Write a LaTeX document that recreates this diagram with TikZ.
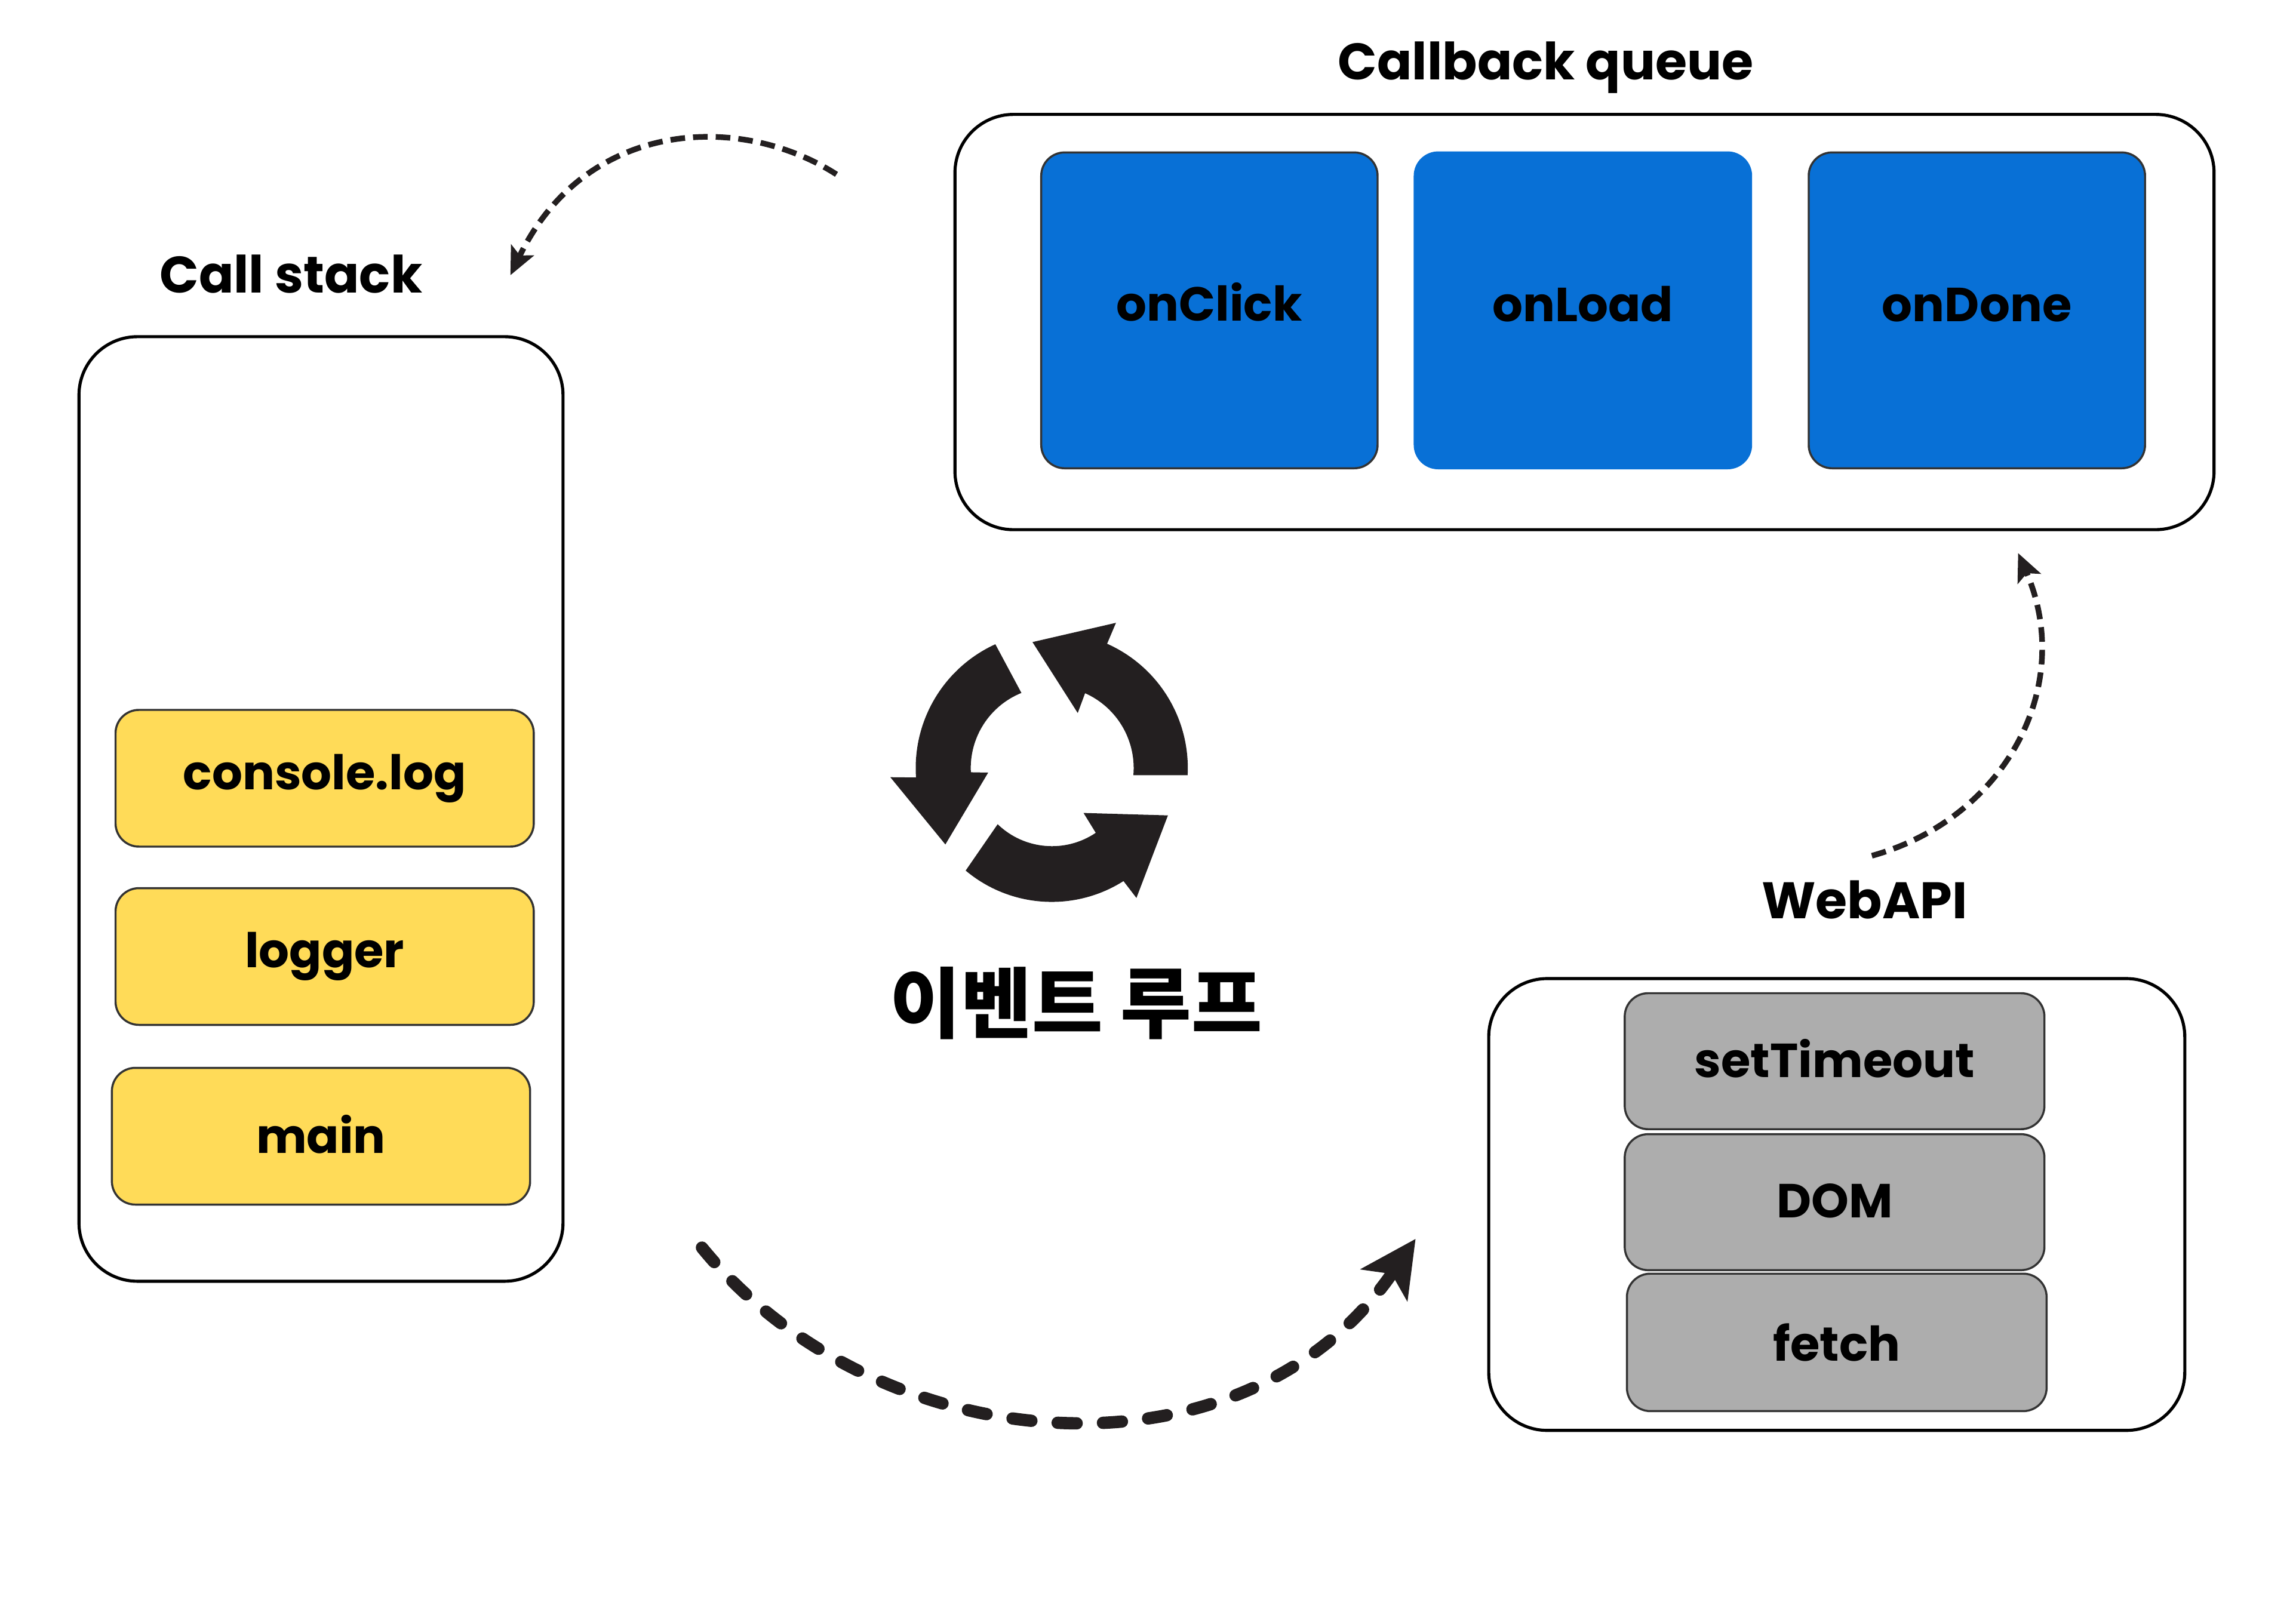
\documentclass[tikz,border=0pt]{standalone}
\usepackage{xcolor}
\usepackage{fontspec}
\usepackage{tikz}
\usetikzlibrary{positioning, arrows.meta}

\setmainfont{Poppins}
\newfontfamily\korfont{Noto Sans CJK KR}

\definecolor{stackyellow}{HTML}{FFDB58}
\definecolor{queueblue}{HTML}{0870D6}
\definecolor{apigray}{HTML}{ADADAD}
\definecolor{loopink}{HTML}{231F20}

\begin{document}
\begin{tikzpicture}[
    % Define styles for the boxes and text
    panel/.style={draw, line width=0.6pt, rectangle, rounded corners=0.4cm, inner sep=0pt},
    block/.style={draw=black!80, line width=0.4pt, rectangle, rounded corners=0.16cm, inner sep=0pt, align=center, font=\fontsize{9.3}{11}\selectfont\bfseries},
    stackblock/.style={block, fill=stackyellow, minimum width=2.86cm, minimum height=0.935cm},
    queueblock/.style={block, fill=queueblue, minimum width=2.3cm, minimum height=2.16cm},
    apiblock/.style={block, fill=apigray, minimum width=2.87cm, minimum height=0.93cm},
    title/.style={align=center, font=\fontsize{10}{12}\selectfont\bfseries},
    flow/.style={-{Stealth[length=0.19cm, width=0.17cm, inset=0.04cm]}, line width=1.1pt, draw=loopink, dash pattern=on 0.1cm off 0.055cm},
    bigflow/.style={-{Stealth[length=0.38cm, width=0.38cm, inset=0.09cm]}, line width=2.4pt, line cap=round, draw=loopink, dash pattern=on 0.13cm off 0.18cm},
    looparrow/.style={fill=loopink, draw=none}
]
    \useasboundingbox (0,0) rectangle (15.68,11.1025);

    % Call stack
    \node[panel, minimum width=3.31cm, minimum height=6.46cm] (stack) at (2.195,5.57) {};
    \node[title] (stacktitle) at (1.99,9.23) {Call stack};
    \node[stackblock] (console) at (2.22,5.78) {console.log};
    \node[stackblock, below=0.27cm of console] (logger) {logger};
    \node[stackblock, below=0.28cm of logger, xshift=-0.025cm] (main) {\raisebox{0.03cm}{main}};

    % Callback queue
    \node[panel, minimum width=8.61cm, minimum height=2.84cm] (queue) at (10.835,8.90) {};
    \node[title] (queuetitle) at (10.57,10.64) {Callback queue};
    \node[queueblock] (onclick) at (8.27,8.98) {\raisebox{0.12cm}{onClick}};
    \node[queueblock, draw=queueblue, right=0.24cm of onclick] (onload) {\raisebox{0.09cm}{onLoad}};
    \node[queueblock, right=0.38cm of onload] (ondone) {\raisebox{0.08cm}{onDone}};

    % WebAPI
    \node[panel, minimum width=4.76cm, minimum height=3.09cm] (webapi) at (12.56,2.865) {};
    \node[title] (webapititle) at (12.75,4.95) {WebAPI};
    \node[apiblock] (timeout) at (12.545,3.845) {\raisebox{0.04cm}{setTimeout}};
    \node[apiblock, below=0.02cm of timeout] (dom) {\raisebox{0.02cm}{DOM}};
    \node[apiblock, below=0.01cm of dom, xshift=0.015cm, minimum height=0.94cm] (fetch) {fetch};

    % Event loop symbol
    \coordinate (loopcenter) at (7.192,5.85);
    \begin{scope}[shift={(loopcenter)}, x=0.0020833cm, y=0.0020833cm]
        \fill[looparrow] (-3:445) arc[start angle=-3, end angle=66, radius=445] -- (210,475) -- (-63,412) -- (85,180) -- (66:268) arc[start angle=66, end angle=-5, radius=268] -- cycle;
        \fill[looparrow] (114.5:445) arc[start angle=114.5, end angle=184, radius=445] -- (-528,-30) -- (-348,-250) -- (-208,-15) -- (183:265) arc[start angle=183, end angle=112, radius=265] -- cycle;
        \fill[looparrow] (230:438) arc[start angle=230, end angle=302.4, radius=438] -- (277,-425) -- (380,-155) -- (104,-147) -- (144,-212) arc[start angle=304, end angle=226, radius=256] -- cycle;
    \end{scope}
    \node[font=\fontsize{15}{18}\selectfont\korfont\bfseries] (looplabel) at (7.36,4.24) {이벤트 루프};

    % Ends of the dashed arrows
    \coordinate (queueout) at (5.72,9.91);
    \coordinate (stackin) at (3.49,9.22);
    \coordinate (stackout) at (4.80,2.57);
    \coordinate (apiin) at (9.68,2.63);
    \coordinate (apiout) at (12.80,5.25);
    \coordinate (queuein) at (13.80,7.32);

    % Draw the dashed arrows
    \draw[flow] (queueout) .. controls (5.05,10.34) and (4.00,10.28) .. (stackin);
    \draw[bigflow] (stackout) .. controls (6.00,1.10) and (8.50,0.90) .. (apiin);
    \draw[flow] (apiout) .. controls (13.70,5.50) and (14.20,6.40) .. (queuein);
\end{tikzpicture}
\end{document}
